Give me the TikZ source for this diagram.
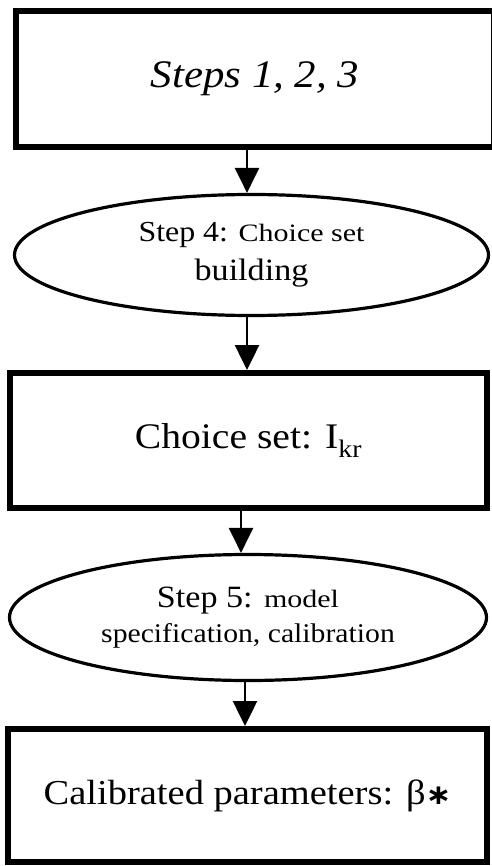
\documentclass[tikz,border=0pt]{standalone}
\usepackage{fontspec}
\setmainfont{Liberation Serif}
\newfontfamily\symfam{DejaVu Sans}
\usepackage{graphicx}
\usetikzlibrary{shapes.geometric,arrows.meta}
\newcommand\hstretch[2][1.1]{\scalebox{#1}[1]{#2}}
\newcommand\fsz[1]{\fontsize{#1}{#1}\selectfont}
\begin{document}
\begin{tikzpicture}[x=1pt,y=-1pt,
  boxnode/.style={draw, rectangle, line width=6pt, inner sep=0pt, align=center},
  ovalnode/.style={draw, ellipse, line width=3.2pt, inner sep=0pt, align=center},
  arr/.style={line width=2.5pt, -{Triangle[length=25pt,width=24pt]}}]
\useasboundingbox (0,0) rectangle (491,866);
\node[boxnode, minimum width=478pt, minimum height=136pt] (b1) at (255,79)
  {\hstretch{\fsz{39}\itshape Steps 1, 2, 3}};
\node[ovalnode, minimum width=474pt, minimum height=121pt,
  font=\fontsize{31}{39}\selectfont] (e1) at (251.5,255)
  {\hstretch{\fsz{29}Step 4: }\hstretch[1.2]{\fsz{25}Choice set}\\
   \hstretch{\fsz{31}building}};
\node[boxnode, minimum width=477pt, minimum height=135pt] (b2) at (248.5,440.5)
  {\hstretch{\fsz{36}Choice set: I\textsubscript{kr}}};
\node[ovalnode, minimum width=477pt, minimum height=126pt,
  font=\fontsize{31}{35}\selectfont] (e2) at (248,617.5)
  {\hstretch{\fsz{31}Step 5: }\hstretch[1.2]{\fsz{25}model}\\
   \hstretch{\fsz{27}specification, calibration}};
\node[boxnode, minimum width=479pt, minimum height=133pt] (b3) at (247.5,795.5)
  {\hstretch{\fsz{35}Calibrated parameters: β{\symfam\bfseries\fsz{28}∗}}};
\coordinate (ax1) at (247,0);
\coordinate (ax2) at (247,0);
\coordinate (ax3) at (241,0);
\coordinate (ax4) at (245,0);
\draw[arr] (b1.south -| ax1) -- (e1.north -| ax1);
\draw[arr] (e1.south -| ax2) -- (b2.north -| ax2);
\draw[arr] (b2.south -| ax3) -- (e2.north -| ax3);
\draw[arr] (e2.south -| ax4) -- (b3.north -| ax4);
\end{tikzpicture}
\end{document}
